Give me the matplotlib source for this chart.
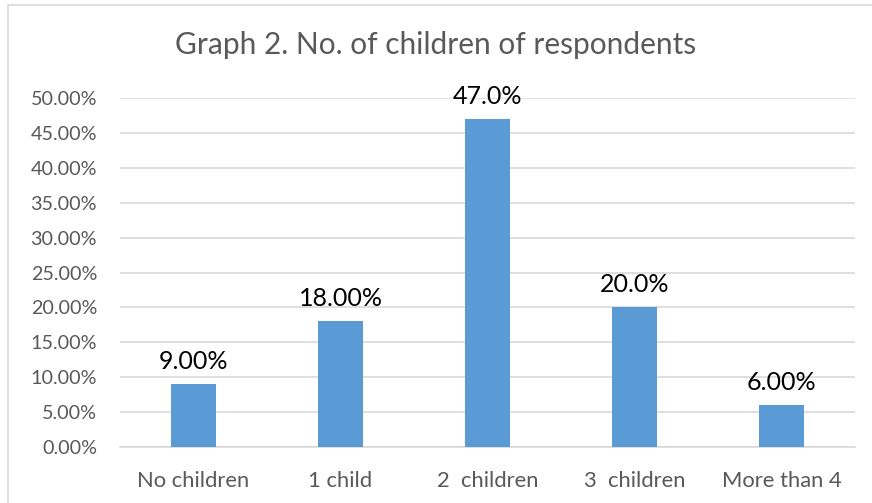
import matplotlib
matplotlib.use("Agg")
import matplotlib.pyplot as plt
from matplotlib.patches import Rectangle

categories = ["No children", "1 child", "2  children", "3  children", "More than 4"]
values = [0.09, 0.18, 0.47, 0.20, 0.06]
labels = ["9.00%", "18.00%", "47.0%", "20.0%", "6.00%"]
yticks = [0, 0.05, 0.10, 0.15, 0.20, 0.25, 0.30, 0.35, 0.40, 0.45, 0.50]

plt.rcParams['font.family'] = ['Lato', 'DejaVu Sans']
fig = plt.figure(figsize=(8.72, 5.03), dpi=100)
ax = fig.add_axes([0.1376, 0.1113, 0.8429, 0.6937])

x = range(len(categories))
ax.bar(x, values, width=0.31, color="#5B9BD5", zorder=3)
for xi, v, lab in zip(x, values, labels):
    ax.text(xi, v + 0.016, lab, ha="center", va="bottom", fontsize=18, color="black")

ax.set_ylim(0, 0.5)
ax.set_xlim(-0.5, len(categories) - 0.5)
ax.set_yticks(yticks)
ax.set_yticklabels([f"{t*100:.2f}%" for t in yticks], fontsize=14.2, color="#595959")
ax.set_xticks(list(x))
ax.set_xticklabels(categories, fontsize=15.8, color="#595959")
ax.tick_params(axis="x", length=0, pad=17)
ax.tick_params(axis="y", length=0, pad=16.5)
ax.yaxis.grid(True, color="#D9D9D9", linewidth=1.2, zorder=0)
for s in ["top", "right", "left"]:
    ax.spines[s].set_visible(False)
ax.spines["bottom"].set_color("#D9D9D9")
ax.spines["bottom"].set_linewidth(1.2)

fig.text(0.5, 0.91, "Graph 2. No. of children of respondents", ha="center", va="center",
         fontsize=21.5, color="#595959")

fig.patches.append(Rectangle((8/872, -0.1), 2, 1 + 0.1 - 5/503, transform=fig.transFigure,
                             fill=False, edgecolor="#D9D9D9", linewidth=1.2))

fig.savefig("out.png", dpi=100)
